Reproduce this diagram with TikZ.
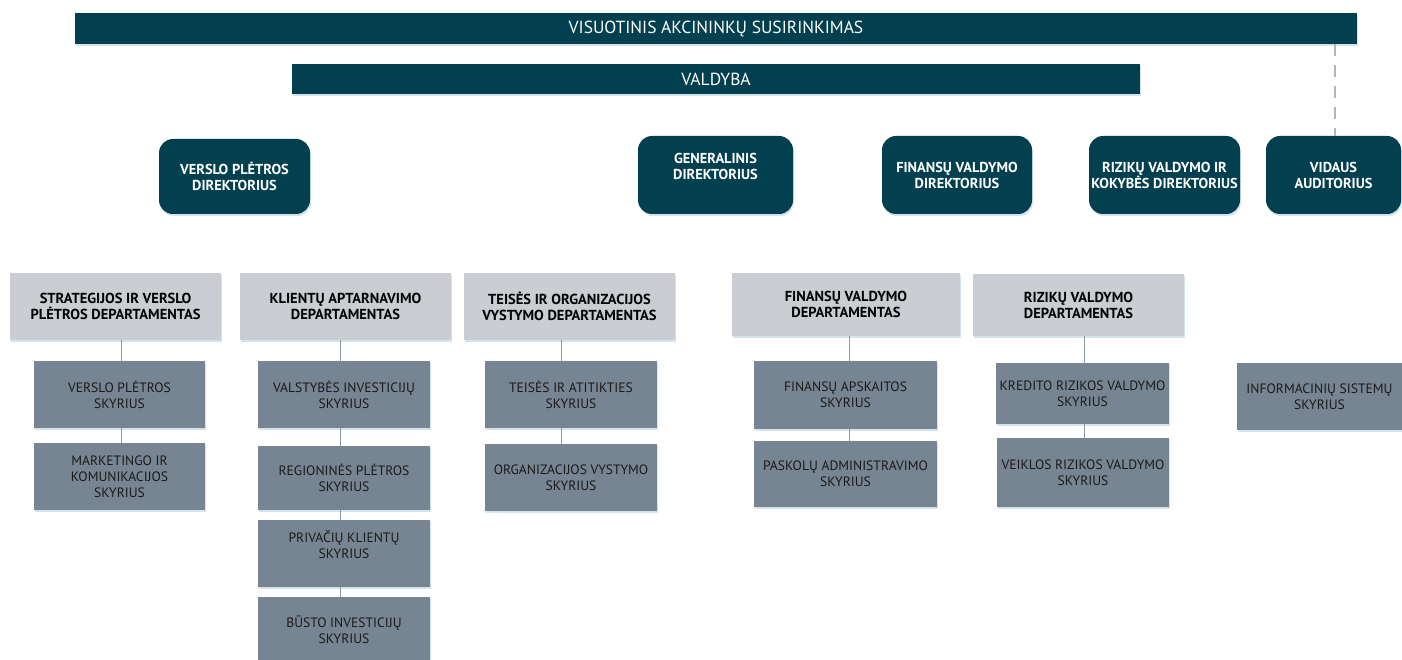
\documentclass[tikz,border=0pt]{standalone}
\usepackage{fontspec}
\setmainfont{PT Sans}
\usetikzlibrary{shadows}
\definecolor{teal}{HTML}{023F4F}
\definecolor{deptgray}{HTML}{CACED2}
\definecolor{secgray}{HTML}{778592}
\definecolor{linegray}{HTML}{8C9AA4}
\definecolor{shadowc}{HTML}{C9DCE6}
\definecolor{sectext}{HTML}{1A1A1A}
\tikzset{
  base/.style={inner sep=0pt, outer sep=0pt, align=center,
    drop shadow={shadow xshift=1pt, shadow yshift=-2pt, fill=shadowc, opacity=0.8}},
  bar/.style={base, fill=teal, text=white, font=\fontsize{17.5}{21}\selectfont},
  dirbox/.style={base, fill=teal, rounded corners=14pt, text=white, font=\bfseries\fontsize{14.4}{16}\selectfont},
  dept/.style={base, fill=deptgray, text=black, font=\bfseries\fontsize{14.5}{16}\selectfont},
  sec/.style={base, fill=secgray, text=sectext, font=\fontsize{13.6}{16}\selectfont},
  conn/.style={draw=linegray, line width=0.8pt},
  dashconn/.style={draw=linegray!70, line width=1.2pt, dash pattern=on 12pt off 9pt},
  lbl/.style={inner sep=0pt, align=center}
}
\newcommand{\bx}[7]{% style, name, x1, y1, x2, y2, text
  \node[#1, minimum width={#5-#3}, minimum height={#6-#4}] (#2) at ({(#3+#5)/2},{(#4+#6)/2}) {#7};}
\newcommand{\vconn}[3]{% xshift, lower node, upper node
  \draw[conn] ([xshift=#1pt]#2.north) -- ([xshift=#1pt]#2.north |- #3.south);}
\begin{document}
\begin{tikzpicture}[x=1pt,y=-1pt]
\useasboundingbox[fill=white] (0,0) rectangle (1402,660);
% top bars
\bx{bar}{vas}{75}{13}{1357}{44}{VISUOTINIS AKCININKŲ SUSIRINKIMAS}
\bx{bar}{val}{292}{64}{1140}{94}{VALDYBA}
% directors
\bx{dirbox}{vpd}{159}{139}{310}{214}{VERSLO PLĖTROS\\DIREKTORIUS}
\bx{dirbox}{gen}{638}{136}{793}{214}{}
\node[lbl, text=white, font=\bfseries\fontsize{14.4}{16}\selectfont] (gent) at (715.5,166) {GENERALINIS\\DIREKTORIUS};
\bx{dirbox}{fid}{882}{136}{1032}{214}{FINANSŲ VALDYMO\\DIREKTORIUS}
\bx{dirbox}{rid}{1089}{136}{1240}{214}{RIZIKŲ VALDYMO IR\\KOKYBĖS DIREKTORIUS}
\bx{dirbox}{vid}{1266}{136}{1401}{214}{VIDAUS\\AUDITORIUS}
% departments
\bx{dept}{str}{10}{273}{221}{340}{STRATEGIJOS IR VERSLO\\PLĖTROS DEPARTAMENTAS}
\bx{dept}{kli}{240}{273}{451}{340}{KLIENTŲ APTARNAVIMO\\DEPARTAMENTAS}
\bx{dept}{tei}{464}{273}{675}{340}{TEISĖS IR ORGANIZACIJOS\\VYSTYMO DEPARTAMENTAS}
\bx{dept}{fdp}{732}{273}{960}{336}{FINANSŲ VALDYMO\\DEPARTAMENTAS}
\bx{dept}{rdp}{973}{274}{1184}{336}{RIZIKŲ VALDYMO\\DEPARTAMENTAS}
% sections
\bx{sec}{vps}{34}{361}{205}{428}{VERSLO PLĖTROS\\SKYRIUS}
\bx{sec}{mks}{34}{443}{205}{510}{MARKETINGO IR\\KOMUNIKACIJOS\\SKYRIUS}
\bx{sec}{vis}{258}{361}{430}{428}{VALSTYBĖS INVESTICIJŲ\\SKYRIUS}
\bx{sec}{rps}{258}{446}{430}{510}{REGIONINĖS PLĖTROS\\SKYRIUS}
\bx{sec}{pks}{258}{520}{430}{587}{}
\node[lbl, text=sectext, font=\fontsize{13.6}{16}\selectfont] (pkst) at (344,545) {PRIVAČIŲ KLIENTŲ\\SKYRIUS};
\bx{sec}{bis}{258}{597}{430}{668}{}
\node[lbl, text=sectext, font=\fontsize{13.6}{16}\selectfont] (bist) at (344,629.5) {BŪSTO INVESTICIJŲ\\SKYRIUS};
\bx{sec}{tas}{485}{361}{657}{428}{TEISĖS IR ATITIKTIES\\SKYRIUS}
\bx{sec}{ovs}{485}{444}{657}{511}{ORGANIZACIJOS VYSTYMO\\SKYRIUS}
\bx{sec}{fas}{754}{361}{937}{429}{FINANSŲ APSKAITOS\\SKYRIUS}
\bx{sec}{pas}{754}{441}{937}{507}{PASKOLŲ ADMINISTRAVIMO\\SKYRIUS}
\bx{sec}{krs}{996}{363}{1169}{424}{KREDITO RIZIKOS VALDYMO\\SKYRIUS}
\bx{sec}{vrs}{997}{438}{1169}{507}{VEIKLOS RIZIKOS VALDYMO\\SKYRIUS}
\bx{sec}{inf}{1237}{363}{1402}{430}{INFORMACINIŲ SISTEMŲ\\SKYRIUS}
% connectors
\vconn{1.5}{vps}{str}
\vconn{1.5}{mks}{vps}
\vconn{-3.5}{vis}{kli}
\vconn{-3.5}{rps}{vis}
\vconn{-3.5}{pks}{rps}
\vconn{-3.5}{bis}{pks}
\vconn{-10}{tas}{tei}
\vconn{-10}{ovs}{tas}
\vconn{4}{fas}{fdp}
\vconn{4}{pas}{fas}
\vconn{1.5}{krs}{rdp}
\vconn{1}{vrs}{krs}
\coordinate (dtop) at (1335,44);
\draw[dashconn] (dtop) -- (dtop |- vid.north);
\end{tikzpicture}
\end{document}
